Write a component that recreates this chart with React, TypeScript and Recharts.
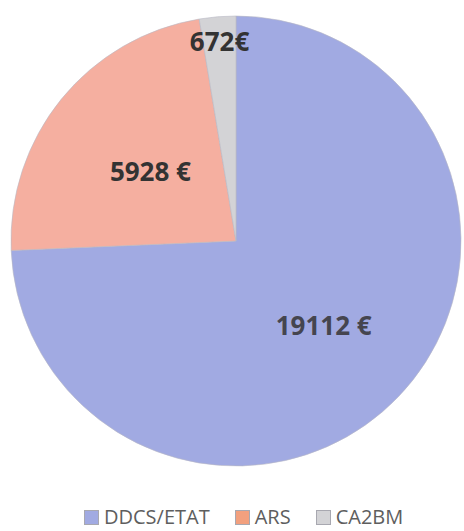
import { PieChart, Pie, Cell, Legend } from 'recharts';

const categories = ['DDCS/ETAT', 'ARS', 'CA2BM'];
const amounts = [19112, 5928, 672];
const valueLabels = ['19112 €', '5928 €', '672€'];

const sliceColors = ['#A1AAE2', '#F5AFA0', '#D3D3D6'];
const legendColors = ['#A1AAE2', '#F2A07E', '#D3D3D6'];
// how far out each label sits, as a share of the radius
const labelRadius = [0.54, 0.49, 0.89];

const data = categories.map((name, i) => ({ name, value: amounts[i] }));

const renderLabel = (props: any) => {
  const { cx, cy, midAngle, outerRadius, index } = props;
  const RAD = Math.PI / 180;
  const r = outerRadius * labelRadius[index];
  const x = cx + r * Math.cos(-midAngle * RAD);
  const y = cy + r * Math.sin(-midAngle * RAD);
  return (
    <text
      x={x}
      y={y}
      fill={index === 0 ? '#45454F' : '#333333'}
      textAnchor="middle"
      dominantBaseline="central"
      fontFamily="'Open Sans', sans-serif"
      fontWeight={700}
      fontSize={26}
    >
      {valueLabels[index]}
    </text>
  );
};

const renderLegend = () => (
  <div
    style={{
      display: 'flex',
      alignItems: 'center',
      paddingLeft: 84,
      fontFamily: "'Open Sans', sans-serif",
      fontSize: 20,
      color: '#5E5E5E',
      lineHeight: '24px',
      height: 24,
    }}
  >
    {categories.map((name, i) => (
      <div key={name} style={{ display: 'flex', alignItems: 'center', marginRight: 25 }}>
        <span
          style={{
            display: 'inline-block',
            width: 15,
            height: 15,
            background: legendColors[i],
            border: '1px solid #A8A8B0',
            boxSizing: 'border-box',
            marginRight: 5,
          }}
        />
        <span>{name}</span>
      </div>
    ))}
  </div>
);

export default function App() {
  return (
    <div style={{ position: 'absolute', left: 0, top: 0, background: '#fff' }}>
      <PieChart width={464} height={531} margin={{ top: 0, right: 0, bottom: 0, left: 0 }}>
        <Pie
          data={data}
          dataKey="value"
          nameKey="name"
          cx={236}
          cy={241}
          outerRadius={225}
          startAngle={90}
          endAngle={-270}
          stroke="#B8B8C4"
          strokeWidth={0.6}
          label={renderLabel}
          labelLine={false}
          isAnimationActive={false}
        >
          {data.map((d, i) => (
            <Cell key={d.name} fill={sliceColors[i]} />
          ))}
        </Pie>
        <Legend
          content={renderLegend}
          verticalAlign="bottom"
          wrapperStyle={{ left: 0, bottom: 2, width: 464, height: 24 }}
        />
      </PieChart>
    </div>
  );
}
